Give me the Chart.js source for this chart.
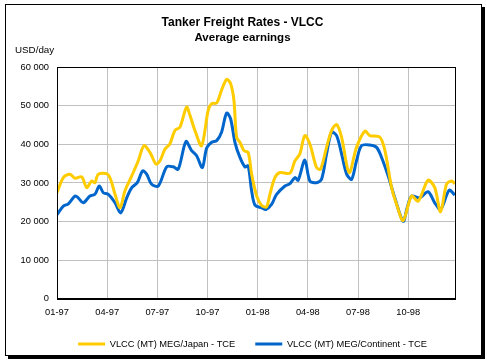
<!DOCTYPE html>
<html>
<head>
<meta charset="utf-8">
<script src="https://cdn.jsdelivr.net/npm/chart.js@4"></script>
<style>
  html, body { margin: 0; padding: 0; background: #fff; }
</style>
</head>
<body>
<canvas id="my-chart" width="487" height="362"></canvas>
<script>
// x positions are months since Jan 1997
const xTickPos = [0, 3, 6, 9, 12, 15, 18, 21];
const xTickLabels = ["01-97", "04-97", "07-97", "10-97", "01-98", "04-98", "07-98", "10-98"];

const japanMonth = [0, 0.38, 0.78, 1.08, 1.48, 1.78, 2.07, 2.27, 2.47, 3.07, 3.47, 3.77, 4.06, 4.47, 4.86,
  5.2, 5.56, 5.92, 6.16, 6.46, 6.75, 7.05, 7.35, 7.75, 7.95, 8.25, 8.65, 9.04, 9.25, 9.55, 9.84, 10.14,
  10.38, 10.58, 10.74, 10.94, 11.18, 11.43, 11.64, 11.94, 12.24, 12.53, 12.73, 13.03, 13.33, 13.93, 14.23,
  14.52, 14.82, 15.12, 15.52, 15.76, 16.12, 16.42, 16.72, 17.02, 17.47, 17.91, 18.41, 18.71, 19.31, 19.61,
  20.01, 20.31, 20.7, 21.2, 21.6, 22.19, 22.59, 22.94, 23.29, 23.59, 23.79];
const japanRate = [27470, 31400, 32270, 31220, 31560, 28780, 30520, 30080, 32270, 32090, 27050, 23560, 27900,
  31830, 35740, 39650, 37910, 34870, 35740, 38790, 40090, 43560, 44430, 49640, 47500, 43560, 39650, 48780,
  50520, 50690, 54000, 56780, 55740, 51390, 41820, 40520, 38350, 37910, 32270, 26610, 24180, 23820, 27050,
  31390, 32690, 32530, 35740, 37490, 42260, 40090, 33990, 33570, 39210, 43560, 45130, 41820, 32690, 39210,
  43390, 42260, 41820, 38350, 28780, 24440, 20270, 26610, 25300, 30700, 28780, 22520, 29650, 30520, 29820];

const contMonth = [0, 0.38, 0.68, 1.08, 1.27, 1.57, 1.97, 2.27, 2.53, 2.77, 3.07, 3.47, 3.81, 4.17, 4.47, 4.8,
  5.12, 5.36, 5.66, 6.06, 6.56, 6.95, 7.25, 7.71, 8.05, 8.35, 8.69, 8.95, 9.25, 9.55, 9.84, 10.14, 10.38,
  10.64, 10.94, 11.24, 11.43, 11.64, 11.84, 12.24, 12.49, 12.83, 13.13, 13.63, 13.93, 14.23, 14.42, 14.82,
  15.12, 15.52, 15.82, 16.12, 16.42, 16.72, 17.02, 17.32, 17.62, 17.91, 18.21, 18.71, 19.11, 19.41, 19.8,
  20.2, 20.7, 20.94, 21.2, 21.7, 22.19, 22.59, 22.94, 23.45, 23.79];
const contRate = [21830, 24000, 24610, 26610, 26160, 24870, 26610, 27050, 29220, 27470, 27050, 24870, 22250,
  26160, 28780, 30080, 33130, 32270, 29650, 29220, 34170, 34170, 33570, 40700, 38350, 37040, 33990, 39050,
  40520, 40960, 43130, 48080, 46620, 40520, 36600, 34170, 34430, 27910, 24260, 23560, 23140, 24440, 27050,
  29220, 29820, 31390, 30700, 35920, 30520, 30080, 30960, 37490, 43130, 42260, 37490, 32270, 30960, 35740,
  39650, 39830, 39210, 36600, 31830, 26160, 20090, 23560, 26610, 26160, 27730, 24870, 23140, 28100, 26870];

const FONT = "'Liberation Sans', Arial, sans-serif";

function toPoints(xs, ys) {
  return xs.map((x, i) => ({ x: x, y: ys[i] }));
}

function formatThousands(v) {
  return String(v).replace(/\B(?=(\d{3})+(?!\d))/g, " ");
}

// outer frame with a drop shadow, plot border and the unit label
const framePlugin = {
  id: "frame",
  afterLayout(chart) {
    // titles and legend sit right of the plot centre in the original
    chart.boxes.forEach(b => {
      if (b.axis) return;
      const shift = b === chart.legend ? 25 : 15;
      b.left += shift;
      b.right += shift;
    });
  },
  beforeDraw(chart) {
    const ctx = chart.ctx;
    ctx.save();
    ctx.fillStyle = "#000";
    ctx.fillRect(8, 7, 477, 352);
    ctx.fillStyle = "#fff";
    ctx.fillRect(5, 4, 477, 352);
    ctx.strokeStyle = "#000";
    ctx.lineWidth = 1;
    ctx.strokeRect(5.5, 4.5, 476, 351);
    ctx.restore();
  },
  afterDatasetsDraw(chart) {
    const ctx = chart.ctx;
    const a = chart.chartArea;
    ctx.save();
    ctx.strokeStyle = "#000";
    ctx.lineWidth = 1;
    ctx.strokeRect(Math.round(a.left) + 0.5, Math.round(a.top) + 0.5,
      Math.round(a.right - a.left), Math.round(a.bottom - a.top));
    ctx.fillStyle = "#000";
    ctx.font = "9.8px " + FONT;
    ctx.textAlign = "left";
    ctx.textBaseline = "middle";
    ctx.fillText("USD/day", 15, 50);
    ctx.restore();
  }
};

const ctx = document.getElementById("my-chart").getContext("2d");

const myChart = new Chart(ctx, {
  type: "line",
  data: {
    datasets: [
      {
        label: "VLCC (MT) MEG/Japan - TCE",
        data: toPoints(japanMonth, japanRate),
        borderColor: "#ffcc00",
        backgroundColor: "#ffcc00",
        borderWidth: 3,
        pointRadius: 0,
        tension: 0.3
      },
      {
        label: "VLCC (MT) MEG/Continent - TCE",
        data: toPoints(contMonth, contRate),
        borderColor: "#0066cc",
        backgroundColor: "#0066cc",
        borderWidth: 3,
        pointRadius: 0,
        tension: 0.3
      }
    ]
  },
  options: {
    responsive: false,
    animation: false,
    devicePixelRatio: 1,
    layout: { padding: { left: 0, right: 32, top: 0, bottom: 3.4 } },
    scales: {
      x: {
        type: "linear",
        min: 0,
        max: 23.8,
        afterBuildTicks: s => { s.ticks = xTickPos.map(v => ({ value: v })); },
        afterFit: s => { s.height = 20.4; },
        ticks: {
          color: "#000",
          font: { family: FONT, size: 9.3 },
          padding: 8,
          maxRotation: 0,
          autoSkip: false,
          callback: v => xTickLabels[xTickPos.indexOf(v)]
        },
        grid: { color: "#c0c0c0", lineWidth: 1, drawTicks: false },
        border: { color: "#000" }
      },
      y: {
        min: 0,
        max: 60000,
        afterFit: s => { s.width = 57; },
        ticks: {
          stepSize: 10000,
          color: "#000",
          font: { family: FONT, size: 9.3 },
          padding: 8,
          callback: v => formatThousands(v)
        },
        grid: { color: "#c0c0c0", lineWidth: 1, drawTicks: false },
        border: { color: "#000" }
      }
    },
    plugins: {
      title: {
        display: true,
        text: "Tanker Freight Rates - VLCC",
        color: "#000",
        font: { family: FONT, size: 12, weight: "bold" },
        padding: { top: 15, bottom: 1 }
      },
      subtitle: {
        display: true,
        text: "Average earnings",
        color: "#000",
        font: { family: FONT, size: 11.5, weight: "bold" },
        padding: { top: 1, bottom: 21.8 }
      },
      legend: {
        position: "bottom",
        labels: {
          color: "#000",
          font: { family: FONT, size: 9.3 },
          usePointStyle: true,
          pointStyle: "line",
          pointStyleWidth: 27,
          padding: 20
        }
      },
      tooltip: { enabled: false }
    }
  },
  plugins: [framePlugin]
});
</script>
</body>
</html>
